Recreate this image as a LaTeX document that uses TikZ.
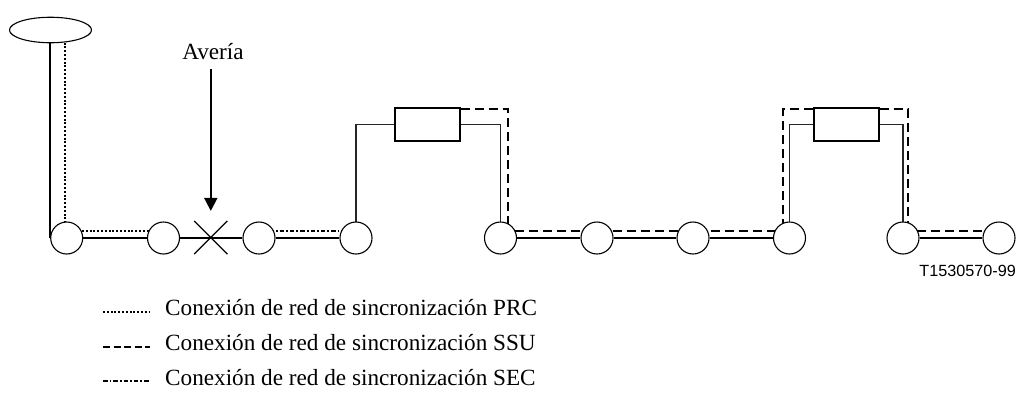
\documentclass[tikz,border=0pt]{standalone}
\usepackage{fontspec}
\setmainfont{Liberation Serif}
\newfontfamily\labelsans{Liberation Sans}
\usetikzlibrary{arrows.meta,shapes.geometric,shapes.misc,calc}
\pgfdeclarelayer{background}
\pgfsetlayers{background,main}
\begin{document}
\begin{tikzpicture}[x=1pt,y=-1pt,
  station/.style={circle,draw,line width=1.1pt,fill=white,minimum size=32pt,inner sep=0pt},
  clockbox/.style={rectangle,draw,line width=1.1pt,fill=white,minimum width=65pt,minimum height=33pt,inner sep=0pt},
  trunk/.style={line width=2.4pt},
  feed/.style={line width=1.1pt,black!85},
  prc/.style={line width=2pt,dash pattern=on 2pt off 1.8pt},
  ssu/.style={line width=2pt,dash pattern=on 9pt off 5pt},
  sec/.style={line width=2pt,dash pattern=on 4.5pt off 2pt on 1.8pt off 2pt},
  serif/.style={inner sep=0pt,font=\fontsize{23.2}{27}\selectfont}
]
\useasboundingbox (0,0) rectangle (1023,402);

% primary reference clock
\node[ellipse,draw,line width=1.1pt,fill=white,minimum width=82pt,minimum height=25.5pt,inner sep=0pt] (src) at (50.5,30) {};

% network elements along the chain
\node[station] (c1) at (66.7,238) {};
\node[station] (c2) at (163.5,238) {};
\node[station] (c3) at (259,238) {};
\node[station] (c4) at (356,238) {};
\node[station] (c5) at (500.5,238) {};
\node[station] (c6) at (597,238) {};
\node[station] (c7) at (693,238) {};
\node[station] (c8) at (789.5,238) {};
\node[station] (c9) at (903,238) {};
\node[station] (c10) at (999,238) {};

% failed link
\node[cross out,draw,line width=1.2pt,minimum size=32pt,inner sep=0pt] (brk) at (210.8,237.5) {};

% synchronisation supply units
\node[clockbox] (b1) at (427.5,124.5) {};
\node[clockbox] (b2) at (846.5,124.5) {};

% labels
\node[serif,anchor=base] (fault) at (213,59.3) {Avería};
\coordinate (arrTop) at (210.8,69);
\draw[line width=2pt,-{Triangle[length=13pt,width=13pt]}] (arrTop) -- ($(brk.north)+(0,-10)$);

\node[anchor=base east,inner sep=0pt,font=\labelsans\fontsize{16.2}{19}\selectfont] (fig) at (1016,276.7) {T1530570-99};

\begin{pgfonlayer}{background}
  % physical links
  \draw[trunk] (src.south -| c1.west) -- (c1.west);
  \draw[trunk] (c1) -- (c2) -- (c3) -- (c4);
  \draw[trunk] (c5) -- (c6) -- (c7) -- (c8);
  \draw[trunk] (c9) -- (c10);
  \draw[feed] (c4.center) |- (b1.west);
  \draw[feed] (b1.east) -| (c5.center);
  \draw[feed] (c8.center) |- (b2.west);
  \draw[feed] (b2.east) -| (c9.center);

  % PRC path
  \coordinate (prcTop) at (65,35);
  \draw[prc] (prcTop) -- (prcTop |- c1.center);
  \draw[prc] ($(c1.center)+(0,-7.5)$) -- ($(c2.center)+(0,-7.5)$);

  % SEC path
  \draw[sec] ($(c3.center)+(0,-7.5)$) -- ($(c4.center)+(0,-7.5)$);

  % SSU paths
  \draw[ssu] ($(b1.north east)+(0,2)$) -| ($(c5.center)+(7.5,0)$);
  \draw[ssu] ($(c5.center)+(0,-7.5)$) -- ($(c8.center)+(0,-7.5)$);
  \draw[ssu] ($(b2.north west)+(0,2)$) -| ($(c8.center)+(-6.5,0)$);
  \draw[ssu] ($(b2.north east)+(0,2)$) -| ($(c9.center)+(5,0)$);
  \draw[ssu] ($(c9.center)+(0,-7.5)$) -- ($(c10.center)+(0,-7.5)$);
\end{pgfonlayer}

% legend
\coordinate (l1a) at (103,311.7); \coordinate (l1b) at (149,311.7);
\coordinate (l2a) at (103,346.7); \coordinate (l2b) at (150,346.7);
\coordinate (l3a) at (103,381);   \coordinate (l3b) at (150,381);
\draw[prc] (l1a) -- (l1b);
\draw[line width=2pt,dash pattern=on 7pt off 3.5pt] (l2a) -- (l2b);
\draw[sec] (l3a) -- (l3b);
\node[serif,anchor=base west] (t1) at (165,315.7) {Conexión de red de sincronización PRC};
\node[serif,anchor=base west] (t2) at (165,350.2) {Conexión de red de sincronización SSU};
\node[serif,anchor=base west] (t3) at (165,385) {Conexión de red de sincronización SEC};
\end{tikzpicture}
\end{document}
